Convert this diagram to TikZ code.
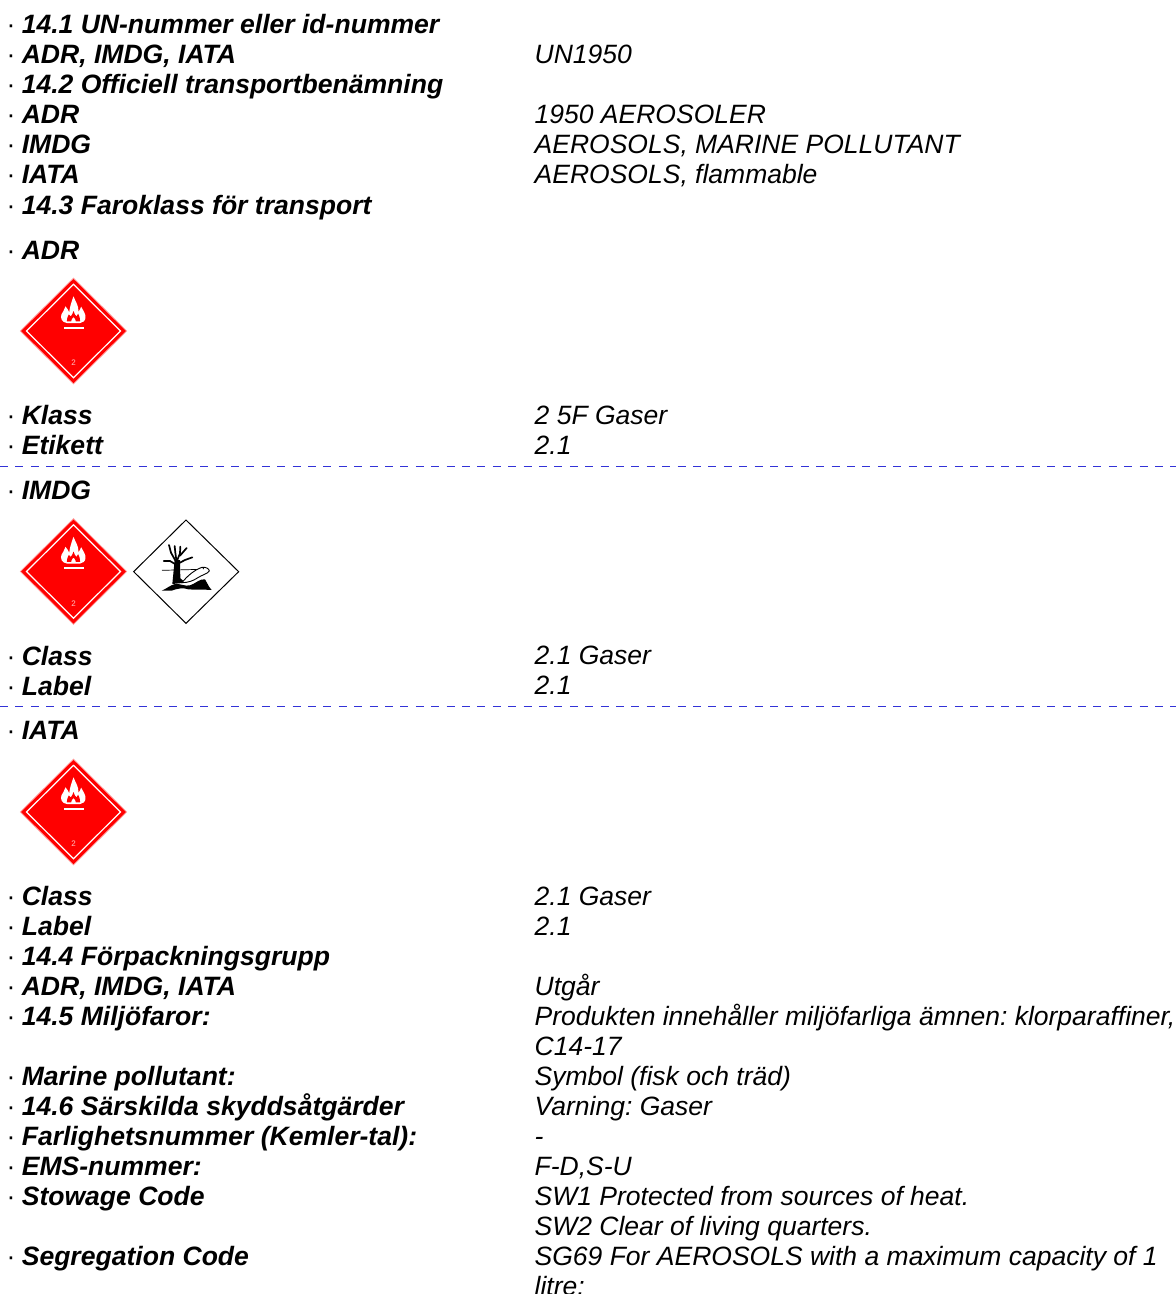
\documentclass[tikz,border=0pt]{standalone}
\usepackage{fontspec}
\setmainfont{Liberation Sans}
\frenchspacing
\definecolor{rulecol}{RGB}{50,50,215}
\definecolor{placardred}{RGB}{255,0,0}
\newcommand{\dotlab}[1]{\makebox[16.6pt][l]{\normalfont\fontsize{26.5pt}{30pt}\selectfont\hspace{1.5pt}·}#1}
\newcommand{\redplacard}[3]{%
  \begin{scope}[shift={(#1,#2)},x=0.3333pt,y=-0.3333pt]
    \fill[placardred!40!white] (0,-160)--(161,0)--(0,160)--(-161,0)--cycle;
    \fill[placardred] (0,-156)--(157,0)--(0,156)--(-157,0)--cycle;
    \draw[white,line width=1.2pt] (0,-140)--(141,0)--(0,140)--(-141,0)--cycle;
    \fill[white] (-20,-24) .. controls (-36,-26) and (-40,-40) .. (-36,-50)
      .. controls (-33,-58) and (-26,-64) .. (-24,-74)
      .. controls (-19,-68) and (-15,-62) .. (-13,-56)
      .. controls (-11,-72) and (-6,-88) .. (0,-104)
      .. controls (5,-90) and (16,-76) .. (15,-58)
      .. controls (18,-62) and (21,-67) .. (23,-73)
      .. controls (30,-60) and (38,-48) .. (36,-40)
      .. controls (35,-30) and (28,-25) .. (20,-24) -- cycle;
    \fill[placardred] (0,-60) .. controls (2,-50) and (6,-48) .. (9,-44)
      .. controls (12,-48) and (13,-50) .. (14,-52)
      .. controls (18,-44) and (20,-38) .. (20,-29)
      -- (7,-29) .. controls (7,-34) and (4,-38) .. (0,-42)
      .. controls (-4,-38) and (-7,-34) .. (-7,-29)
      -- (-20,-29) .. controls (-20,-36) and (-18,-44) .. (-14,-50)
      .. controls (-12,-48) and (-10,-46) .. (-8,-44)
      .. controls (-5,-48) and (-2,-52) .. (0,-60) -- cycle;
    \fill[white] (-28,-13) rectangle (32,-7);
    \node[inner sep=0pt,text=white!75!placardred,font=\fontsize{8pt}{8pt}\selectfont] (#3) at (0,96) {2};
  \end{scope}}
\tikzset{
  lab/.style={anchor=base west,inner sep=0pt,font=\fontsize{26.55pt}{30pt}\selectfont\bfseries\itshape},
  val/.style={anchor=base west,inner sep=0pt,font=\fontsize{26.5pt}{30pt}\selectfont\itshape},
  sep/.style={rulecol,line width=1pt,dash pattern=on 8pt off 7.4pt},
  bough/.style={black,line width=1.7pt,line cap=round,line join=round}
}
\begin{document}
\begin{tikzpicture}[x=1pt,y=-1pt]
\useasboundingbox (0,0) rectangle (1176,1294);
\fill[white] (0,0) rectangle (1176,1294);
% left column
\foreach \n/\y/\t in {
 a/33/14.1 UN-nummer eller id-nummer,
 b/63/{ADR, IMDG, IATA},
 c/93/14.2 Officiell transportbenämning,
 d/123/ADR,
 e/153/IMDG,
 f/183/IATA,
 g/214/14.3 Faroklass för transport,
 h/259/ADR,
 i/424/Klass,
 j/454/Etikett,
 k/499/IMDG,
 l/665/Class,
 m/695/Label,
 n/739/IATA,
 o/905/Class,
 p/935/Label,
 q/965/14.4 Förpackningsgrupp,
 r/995/{ADR, IMDG, IATA},
 s/1025/14.5 Miljöfaror:,
 t/1085/Marine pollutant:,
 u/1115/14.6 Särskilda skyddsåtgärder,
 v/1145/Farlighetsnummer (Kemler-tal):,
 w/1175/EMS-nummer:,
 x/1205/Stowage Code,
 y/1265/Segregation Code}
 {\node[lab] (L\n) at (5,\y) {\dotlab{\t}};}
% right column
\foreach \n/\y/\t in {
 b/63/UN1950,
 d/123/1950 AEROSOLER,
 e/153/{AEROSOLS, MARINE POLLUTANT},
 f/183/{AEROSOLS, flammable},
 i/424/2 5F Gaser,
 j/454/2.1,
 l/664/2.1 Gaser,
 m/694/2.1,
 o/905/2.1 Gaser,
 p/935/2.1,
 r/995/Utgår,
 s/1025/{Produkten innehåller miljöfarliga ämnen: klorparaffiner,},
 s2/1055/C14-17,
 t/1085/Symbol (fisk och träd),
 u/1115/Varning: Gaser,
 v/1145/-,
 w/1175/{F-D,S-U},
 x/1205/SW1 Protected from sources of heat.,
 x2/1235/SW2 Clear of living quarters.,
 y/1265/SG69 For AEROSOLS with a maximum capacity of 1,
 y2/1295/litre:}
 {\node[val] (R\n) at (534.5,\y) {\t};}
% separators
\coordinate (s1a) at (0,466.8); \coordinate (s1b) at (1176,466.8);
\coordinate (s2a) at (0,706.8); \coordinate (s2b) at (1176,706.8);
\draw[sep] (s1a) -- (s1b);
\draw[sep] (s2a) -- (s2b);
% placards
\redplacard{73.5}{331}{adrtwo}
\redplacard{73.5}{571.5}{imdgtwo}
\redplacard{73.5}{812}{iatatwo}
% environment hazard placard
\begin{scope}[shift={(120,510)},x=0.3333pt,y=-0.3333pt]
  \draw[black,line width=1pt,fill=white] (198,30)--(356,185)--(198,340)--(41,185)--cycle;
  % ground
  \fill[black] (125,242) .. controls (140,236) and (150,226) .. (165,222)
    .. controls (180,220) and (195,230) .. (210,226)
    .. controls (225,222) and (240,205) .. (255,208)
    .. controls (262,216) and (262,226) .. (275,240)
    .. controls (250,238) and (225,240) .. (205,238)
    .. controls (190,232) and (170,236) .. (155,242) -- cycle;
  % tree
  \fill[black] (157,222) -- (164,150) -- (180,150) -- (181,205) -- (197,218) -- cycle;
  \draw[bough] (170,165) -- (150,153) -- (131,153);
  \draw[bough] (168,155) -- (153,128) -- (147,105);
  \draw[bough] (169,150) -- (166,128) -- (164,108);
  \draw[bough] (172,150) -- (180,130) -- (181,110);
  \draw[bough] (176,160) -- (195,150) -- (217,142);
  \draw[bough] (180,137) -- (200,114);
  % water line
  \draw[black,line width=0.7pt] (126,181) -- (244,178);
  % fish
  \draw[black,line width=0.9pt,fill=white] (186,218) .. controls (200,200) and (222,180) .. (246,172)
    .. controls (256,170) and (268,176) .. (268,183) .. controls (262,192) and (245,195) .. (232,204)
    .. controls (220,212) and (205,218) .. (186,218) -- cycle;
  \fill[black] (250,176) circle (2);
\end{scope}
\end{tikzpicture}
\end{document}
